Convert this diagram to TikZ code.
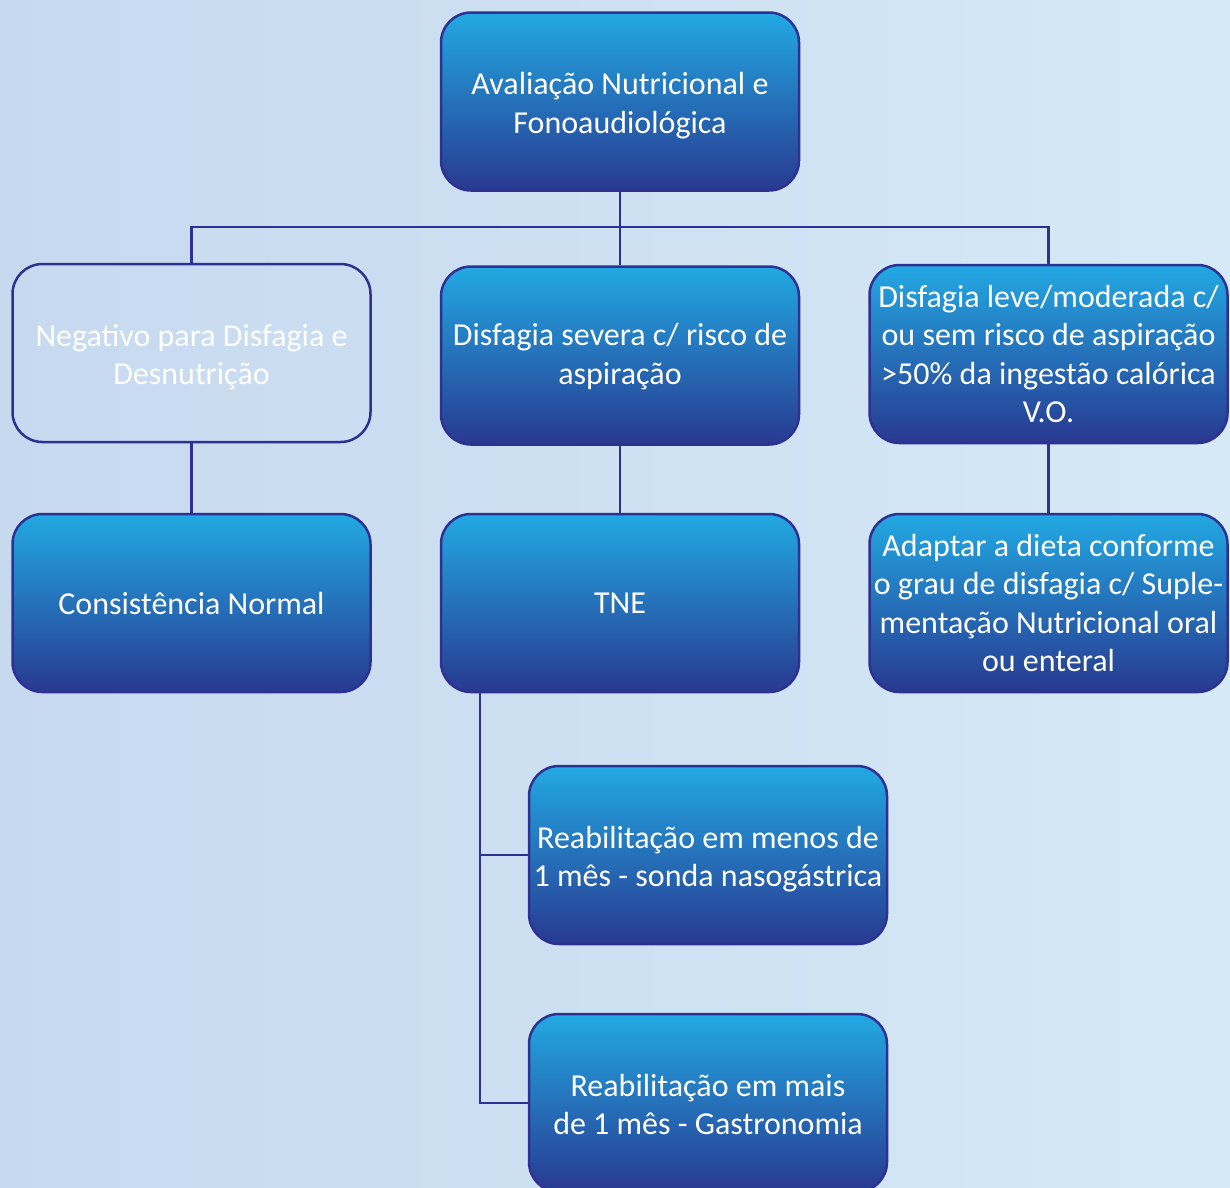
\documentclass[tikz,border=0pt]{standalone}
\usepackage{fontspec}
\setmainfont{Carlito}
\definecolor{bgblue}{HTML}{CFE0F2}
\definecolor{bgdark}{HTML}{C6D9EF}
\definecolor{bglight}{HTML}{D6E9F6}
\definecolor{boxtop}{HTML}{22A9E3}
\definecolor{boxbot}{HTML}{283990}
\definecolor{navy}{HTML}{2E3192}
\newcommand{\twolines}[3][-5pt]{\raisebox{#1}[\height][\depth]{\begin{tabular}{@{}c@{}}#2\\#3\end{tabular}}}
\tikzset{
  box/.style={rectangle, rounded corners=30pt, draw=navy, line width=2.5pt,
    top color=boxtop, bottom color=boxbot, text=white, align=center,
    minimum width=358pt, minimum height=178pt, inner sep=0pt,
    font=\fontsize{32}{38.5}\selectfont},
  link/.style={draw=navy, line width=2.8pt}
}
\begin{document}
\begin{tikzpicture}[x=1pt,y=-1pt]
\useasboundingbox (0,0) rectangle (1230,1187);
\shade[left color=bgdark, right color=bglight] (0,0) rectangle (1230,1187);
\clip (0,0) rectangle (1230,1187);

\node[box] (top) at (620,101.5) {\twolines{Avaliação Nutricional e}{Fonoaudiológica}};
\node[box, top color=bgblue, bottom color=bgblue, fill opacity=0, text opacity=1] (neg) at (191.5,353) {\twolines{Negativo para Disfagia e}{Desnutrição}};
\node[box] (sev) at (620,355.5) {\twolines[-2pt]{Disfagia severa c/ risco de}{aspiração}};
\node[box] (leve) at (1048.5,354) {Disfagia leve/moderada c/\\ou sem risco de aspiração\\>50\% da ingestão calórica\\V.O.};
\node[box] (cons) at (191.5,603) {Consistência Normal};
\node[box] (tne) at (620,603) {TNE};
\node[box] (adapt) at (1048.5,603) {Adaptar a dieta conforme\\o grau de disfagia c/ Suple-\\mentação Nutricional oral\\ou enteral};
\node[box] (reab1) at (708,855) {\twolines{Reabilitação em menos de}{1 mês - sonda nasogástrica}};
\node[box] (reab2) at (708,1103) {\twolines{Reabilitação em mais}{de 1 mês - Gastronomia}};

\coordinate (j) at (620,227);
\coordinate (t) at (480,692);
\draw[link] (top.south) -- (j);
\draw[link] (neg.north) |- (j) -| (leve.north);
\draw[link] (j) -- (sev.north);
\draw[link] (neg.south) -- (cons.north);
\draw[link] (sev.south) -- (tne.north);
\draw[link] (leve.south) -- (adapt.north);
\draw[link] (t) |- (reab2.west);
\draw[link] (reab1.west) -- (reab1.west -| t);
\end{tikzpicture}
\end{document}
